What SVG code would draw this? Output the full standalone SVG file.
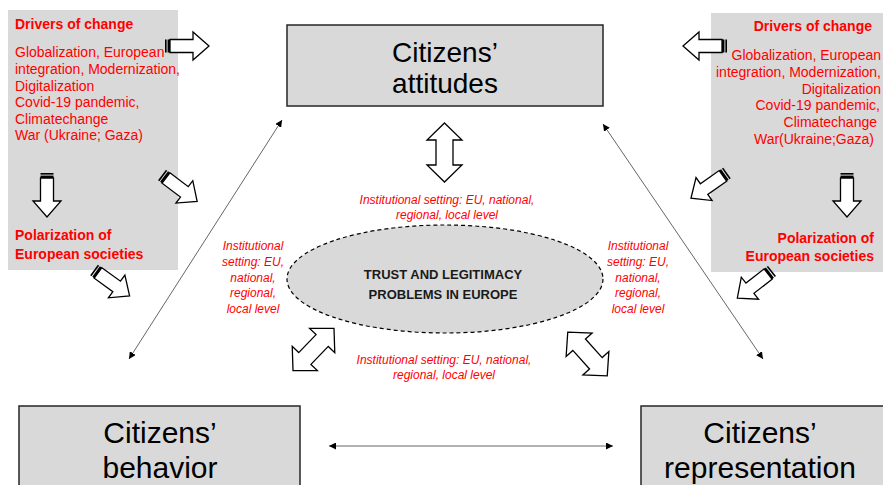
<svg xmlns="http://www.w3.org/2000/svg" xmlns:xlink="http://www.w3.org/1999/xlink" width="883" height="485" viewBox="0 0 883 485">
<style>
.panel{fill:#d9d9d9;stroke:none}
.box{fill:#d9d9d9;stroke:#262626;stroke-width:1.5}
.big{font-family:"Liberation Sans",Arial,sans-serif;font-size:30px;fill:#000;text-anchor:middle}
.top{font-size:28px}
.hd{font-family:"Liberation Sans",Arial,sans-serif;font-size:14px;font-weight:bold;fill:#ff0000}
.bd{font-family:"Liberation Sans",Arial,sans-serif;font-size:14px;fill:#ff0000}
.inst{font-family:"Liberation Sans",Arial,sans-serif;font-size:12px;font-style:italic;fill:#ff0000;text-anchor:middle}
.core{font-family:"Liberation Sans",Arial,sans-serif;font-size:13px;font-weight:bold;fill:#1a1a1a;text-anchor:middle}
.thin{stroke:#666;stroke-width:1;fill:none;marker-start:url(#ah);marker-end:url(#ah)}
.outline{fill:#fff;stroke:#000;stroke-width:1.3;stroke-linejoin:miter}
</style>
<defs>
<marker id="ah" viewBox="0 0 10 10" refX="10" refY="5" markerWidth="7" markerHeight="7" markerUnits="userSpaceOnUse" orient="auto-start-reverse">
<path d="M0,0 L10,5 L0,10 z" fill="#000"/>
</marker>
<g id="sarrow">
<rect x="0" y="-6.5" width="1.6" height="13" fill="#000"/>
<rect x="2.6" y="-6.5" width="2.4" height="13" fill="#000"/>
<polygon class="outline" points="5,-6.5 28,-6.5 28,-14 44,0 28,14 28,6.5 5,6.5"/>
</g>
<polygon id="darrow" class="outline" points="-29.5,0 -12.5,-17.5 -12.5,-8.5 12.5,-8.5 12.5,-17.5 29.5,0 12.5,17.5 12.5,8.5 -12.5,8.5 -12.5,17.5"/>
</defs>

<g id="drivers-left">
<rect class="panel" x="8" y="10" width="170" height="260"/>
<text class="hd" x="15" y="29">Drivers of change</text>
<text class="bd" x="15" y="57">Globalization, European</text>
<text class="bd" x="15" y="74">integration, Modernization,</text>
<text class="bd" x="15" y="91">Digitalization</text>
<text class="bd" x="15" y="107">Covid-19 pandemic,</text>
<text class="bd" x="15" y="124">Climatechange</text>
<text class="bd" x="15" y="140">War (Ukraine; Gaza)</text>
<text class="hd" x="15" y="240">Polarization of</text>
<text class="hd" x="15" y="259">European societies</text>
</g>

<g id="drivers-right">
<rect class="panel" x="711" y="13" width="172" height="259"/>
<text class="hd" x="872" y="31" text-anchor="end">Drivers of change</text>
<text class="bd" x="881" y="60" text-anchor="end">Globalization, European</text>
<text class="bd" x="881" y="77" text-anchor="end">integration, Modernization,</text>
<text class="bd" x="881" y="94" text-anchor="end">Digitalization</text>
<text class="bd" x="880" y="110" text-anchor="end">Covid-19 pandemic,</text>
<text class="bd" x="877" y="127" text-anchor="end">Climatechange</text>
<text class="bd" x="874" y="144" text-anchor="end">War(Ukraine;Gaza)</text>
<text class="hd" x="874" y="243" text-anchor="end">Polarization of</text>
<text class="hd" x="874" y="261" text-anchor="end">European societies</text>
</g>

<g id="attitudes">
<rect class="box" x="287" y="25" width="316" height="81"/>
<text class="big top" x="445" y="62">Citizens’</text>
<text class="big top" x="445" y="93">attitudes</text>
</g>

<g id="behavior">
<rect class="box" x="19" y="406" width="281" height="90"/>
<text class="big" x="160" y="443">Citizens’</text>
<text class="big" x="160" y="478">behavior</text>
</g>

<g id="representation">
<rect class="box" x="641" y="406" width="250" height="90"/>
<text class="big" x="760" y="443">Citizens’</text>
<text class="big" x="760" y="478">representation</text>
</g>

<g id="trust">
<ellipse cx="445" cy="279" rx="158" ry="54" fill="#d9d9d9" stroke="#000" stroke-width="1.2" stroke-dasharray="4,3"/>
<text class="core" x="443" y="279">TRUST AND LEGITIMACY</text>
<text class="core" x="443" y="299">PROBLEMS IN EUROPE</text>
</g>

<g id="labels">
<text class="inst" x="447" y="204">Institutional setting: EU, national,</text>
<text class="inst" x="447" y="219">regional, local level</text>
<text class="inst" x="253" y="250">Institutional</text>
<text class="inst" x="253" y="266">setting: EU,</text>
<text class="inst" x="253" y="282">national,</text>
<text class="inst" x="253" y="297">regional,</text>
<text class="inst" x="253" y="313">local level</text>
<text class="inst" x="638" y="250">Institutional</text>
<text class="inst" x="638" y="266">setting: EU,</text>
<text class="inst" x="638" y="282">national,</text>
<text class="inst" x="638" y="297">regional,</text>
<text class="inst" x="638" y="313">local level</text>
<text class="inst" x="444" y="364">Institutional setting: EU, national,</text>
<text class="inst" x="444" y="379">regional, local level</text>
</g>

<g id="connectors">
<line class="thin" x1="129" y1="359" x2="282" y2="120"/>
<line class="thin" x1="603" y1="124" x2="763" y2="359"/>
<line class="thin" x1="329" y1="446" x2="613" y2="446"/>
<use xlink:href="#sarrow" transform="translate(165,46)"/>
<use xlink:href="#sarrow" transform="translate(47,173) rotate(90)"/>
<use xlink:href="#sarrow" transform="translate(162,175) rotate(37)"/>
<use xlink:href="#sarrow" transform="translate(94,270) rotate(36)"/>
<use xlink:href="#sarrow" transform="translate(727,46) rotate(180)"/>
<use xlink:href="#sarrow" transform="translate(847,173) rotate(90)"/>
<use xlink:href="#sarrow" transform="translate(727,173) rotate(145)"/>
<use xlink:href="#sarrow" transform="translate(772,271) rotate(142)"/>
<use xlink:href="#darrow" transform="translate(444.5,152.5) rotate(90)"/>
<use xlink:href="#darrow" transform="translate(313.5,349.5) rotate(-46)"/>
<use xlink:href="#darrow" transform="translate(587.5,354) rotate(48)"/>
</g>
</svg>
